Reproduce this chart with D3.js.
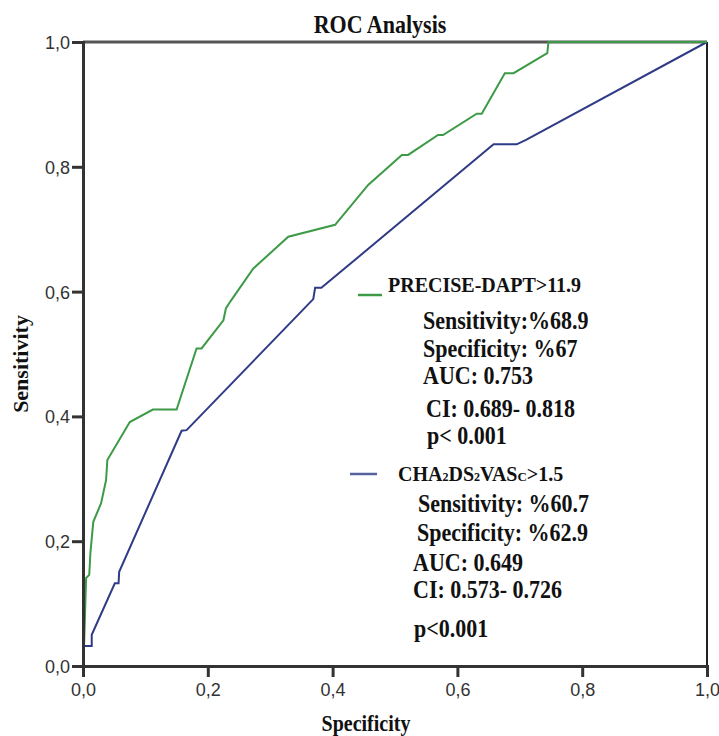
<!DOCTYPE html>
<html>
<head>
<meta charset="utf-8">
<script src="https://cdn.jsdelivr.net/npm/d3@7.9.0/dist/d3.min.js"></script>
<style>
  body { margin: 0; background: #fff; }
  svg { display: block; }
  .tick text { font-family: "Liberation Sans", Arial, sans-serif; font-size: 18px; fill: #333; }
  .serif { font-family: "Liberation Serif", "Times New Roman", serif; font-weight: bold; fill: #111; }
</style>
</head>
<body>
<svg id="chart" width="719" height="736"></svg>
<script>
// ROC curve for PRECISE-DAPT (x = 1-specificity as plotted, y = sensitivity)
const preciseX = [0, 0.002, 0.005, 0.010, 0.012, 0.0165, 0.029, 0.037, 0.039, 0.075, 0.112, 0.150,
  0.182, 0.190, 0.225, 0.229, 0.236, 0.273, 0.329, 0.404, 0.457, 0.511, 0.521, 0.569, 0.577,
  0.631, 0.639, 0.676, 0.690, 0.744, 0.746, 1];
const preciseY = [0, 0.042, 0.141, 0.146, 0.183, 0.231, 0.261, 0.298, 0.330, 0.391, 0.411, 0.411,
  0.509, 0.509, 0.554, 0.573, 0.584, 0.637, 0.688, 0.707, 0.771, 0.819, 0.819, 0.851, 0.851,
  0.885, 0.885, 0.950, 0.950, 0.982, 1, 1];

// ROC curve for CHA2DS2VASc
const chaX = [0, 0, 0.014, 0.014, 0.051, 0.057, 0.058, 0.158, 0.166, 0.369, 0.372, 0.382, 0.658, 0.695, 0.710, 1];
const chaY = [0, 0.032, 0.032, 0.050, 0.1325, 0.1325, 0.151, 0.377, 0.378, 0.588, 0.606, 0.606, 0.836, 0.836, 0.843, 1];

const tickValues = [0, 0.2, 0.4, 0.6, 0.8, 1.0];

const preciseName = 'PRECISE-DAPT>11.9';
const preciseStats = ['Sensitivity:%68.9', 'Specificity: %67', 'AUC: 0.753', 'CI: 0.689- 0.818', 'p< 0.001'];
const chaStats = ['Sensitivity: %60.7', 'Specificity: %62.9', 'AUC: 0.649', 'CI: 0.573- 0.726', 'p<0.001'];

const green = '#3d9a47';
const blue = '#2f3b86';

const svg = d3.select('#chart');
const x = d3.scaleLinear().domain([0, 1]).range([83, 707]);
const y = d3.scaleLinear().domain([0, 1]).range([666, 42]);
const fmt = (d) => d3.format('.1f')(d).replace('.', ',');

// frame top / right
svg.append('line').attr('x1', x(0)).attr('x2', x(1)).attr('y1', y(1)).attr('y2', y(1))
  .attr('stroke', '#555').attr('stroke-width', 3);
svg.append('line').attr('x1', x(1)).attr('x2', x(1)).attr('y1', y(1)).attr('y2', y(0))
  .attr('stroke', '#222').attr('stroke-width', 2);

// curves
const line = d3.line().x((d) => x(d[0])).y((d) => y(d[1]));
svg.append('path').datum(chaX.map((v, i) => [v, chaY[i]]))
  .attr('d', line).attr('fill', 'none').attr('stroke', blue).attr('stroke-width', 2);
svg.append('path').datum(preciseX.map((v, i) => [v, preciseY[i]]))
  .attr('d', line).attr('fill', 'none').attr('stroke', green).attr('stroke-width', 2);

// axes
const yAxis = svg.append('g').attr('transform', `translate(${x(0)},0)`)
  .call(d3.axisLeft(y).tickValues(tickValues).tickSize(11).tickPadding(2).tickFormat(fmt));
const xAxis = svg.append('g').attr('transform', `translate(0,${y(0)})`)
  .call(d3.axisBottom(x).tickValues(tickValues).tickSize(11).tickPadding(3).tickFormat(fmt));
[xAxis, yAxis].forEach((g) => {
  g.select('.domain').attr('stroke', '#333').attr('stroke-width', 3);
  g.selectAll('.tick line').attr('stroke', '#333').attr('stroke-width', 3);
});
yAxis.selectAll('.tick text').attr('dy', '0.36em');
xAxis.selectAll('.tick text').attr('dy', '0.9em');

// stretched serif text helper
function txt(s, px, py, size, sy = 1.13, anchor = 'start', rot = 0) {
  return svg.append('text').attr('class', 'serif')
    .attr('transform', `translate(${px},${py}) scale(1,${sy})` + (rot ? ` rotate(${rot})` : ''))
    .attr('text-anchor', anchor).attr('font-size', size).text(s);
}

txt('ROC Analysis', 380, 33, 22, 1.13, 'middle');
txt('Specificity', 366, 731, 20, 1.13, 'middle');
txt('Sensitivity', 28, 364, 20, 1.1, 'middle', -90);

// legend: PRECISE-DAPT
svg.append('line').attr('x1', 358).attr('x2', 382).attr('y1', 295).attr('y2', 295)
  .attr('stroke', green).attr('stroke-width', 2.5);
txt(preciseName, 388, 292, 20, 1);
const pPos = [[423, 329], [423, 357], [423, 384], [426, 417], [427, 444]];
preciseStats.forEach((s, i) => txt(s, pPos[i][0], pPos[i][1], 22));

// legend: CHA2DS2VASc
svg.append('line').attr('x1', 350).attr('x2', 377).attr('y1', 474).attr('y2', 474)
  .attr('stroke', '#55609f').attr('stroke-width', 2.5);
const head = svg.append('text').attr('class', 'serif').attr('x', 398).attr('y', 481).attr('font-size', 20);
[['CHA', 20, 0], ['2', 12, 0], ['DS', 20, 0], ['2', 12, 0], ['VAS', 20, 0], ['C', 13, 0], ['>1.5', 20, 0]]
  .forEach(([t, fs]) => head.append('tspan').attr('font-size', fs).text(t));
const cPos = [[418, 512], [417, 541], [413, 571], [413, 598], [414, 637]];
chaStats.forEach((s, i) => txt(s, cPos[i][0], cPos[i][1], 22));
</script>
</body>
</html>
